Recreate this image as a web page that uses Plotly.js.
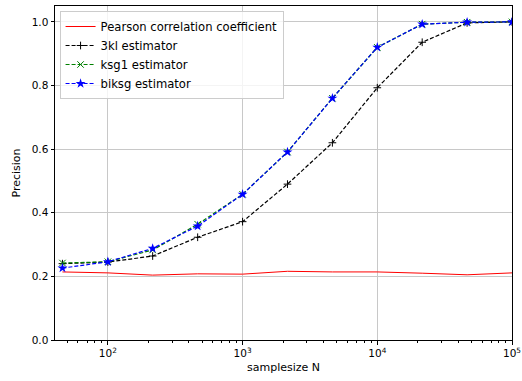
<!DOCTYPE html>
<html><head><meta charset="utf-8">
<script src="https://cdn.plot.ly/plotly-3.0.1.min.js"></script>
<style>body{margin:0}#c{width:522px;height:381px}</style>
</head><body><div id="c"></div>
<script>
const sampleSizes = [46, 100, 215, 464, 1000, 2154, 4642, 10000, 21544, 46416, 100000];
const pearson = [0.214, 0.211, 0.204, 0.208, 0.207, 0.216, 0.214, 0.214, 0.210, 0.205, 0.211];
const kl3 = [0.240, 0.245, 0.264, 0.323, 0.372, 0.490, 0.620, 0.793, 0.936, 0.997, 1.0];
const ksg1 = [0.242, 0.246, 0.283, 0.364, 0.458, 0.591, 0.760, 0.920, 0.993, 0.999, 1.0];
const biksg = [0.226, 0.246, 0.288, 0.358, 0.458, 0.591, 0.760, 0.920, 0.993, 0.999, 1.0];
const names = ["Pearson correlation coefficient", "3kl estimator", "ksg1 estimator", "biksg estimator"];
const majorTicks = [100, 1000, 10000, 100000];
const majorText = ["10<sup>2</sup>", "10<sup>3</sup>", "10<sup>4</sup>", "10<sup>5</sup>"];
const yTicks = [0, 0.2, 0.4, 0.6, 0.8, 1.0];

const minorVals = [];
for (let e = 1; e <= 4; e++) for (let m = 2; m <= 9; m++) { const v = m * Math.pow(10, e); if (v >= 40 && v <= 100000) minorVals.push(v); }

const traces = [
  {x: sampleSizes, y: pearson, name: names[0], mode: 'lines', line: {color: 'red', width: 1}},
  {x: sampleSizes, y: kl3, name: names[1], mode: 'lines+markers', line: {color: 'black', width: 1.2, dash: '4px,2px'},
   marker: {symbol: 'cross-thin-open', size: 5.5, color: 'black', line: {width: 1, color: 'black'}}},
  {x: sampleSizes, y: ksg1, name: names[2], mode: 'lines+markers', line: {color: 'green', width: 1.2, dash: '4px,2px'},
   marker: {symbol: 'x-thin-open', size: 6.5, color: 'green', line: {width: 1, color: 'green'}}},
  {x: sampleSizes, y: biksg, name: names[3], mode: 'lines+markers', line: {color: 'blue', width: 1.2, dash: '4px,2px'},
   marker: {symbol: 'star', size: 7.5, color: 'blue', line: {width: 0}}}
];
const layout = {
  width: 522, height: 381,
  margin: {l: 55, r: 10, t: 6, b: 41},
  paper_bgcolor: 'white', plot_bgcolor: 'white',
  font: {family: 'DejaVu Sans', size: 10.5, color: 'black'},
  showlegend: true,
  legend: {x: 0.01, y: 0.985, xanchor: 'left', yanchor: 'top', bgcolor: 'rgba(255,255,255,0.8)',
           bordercolor: '#cccccc', borderwidth: 1, font: {size: 11.6}, tracegroupgap: 0, itemwidth: 30},
  xaxis: {type: 'log', range: [Math.log10(40.5), 5], tickvals: majorTicks, ticktext: majorText,
          showgrid: true, gridcolor: '#c8c8c8', gridwidth: 1, zeroline: false,
          showline: true, linecolor: 'black', linewidth: 1, mirror: true,
          ticks: 'outside', ticklen: 3.5, tickcolor: 'black',
          minor: {tickvals: minorVals, ticks: 'outside', ticklen: 2, tickcolor: 'black', showgrid: false},
          title: {text: 'samplesize N', font: {size: 11}, standoff: 5}},
  yaxis: {range: [0, 1.05], tickvals: yTicks, ticktext: yTicks.map(v => v.toFixed(1)),
          showgrid: true, gridcolor: '#c8c8c8', gridwidth: 1, zeroline: false,
          showline: true, linecolor: 'black', linewidth: 1, mirror: true,
          ticks: 'outside', ticklen: 3.5, tickcolor: 'black',
          title: {text: 'Precision', font: {size: 11}, standoff: 8}}
};
Plotly.newPlot('c', traces, layout, {displayModeBar: false, staticPlot: true});
</script></body></html>
